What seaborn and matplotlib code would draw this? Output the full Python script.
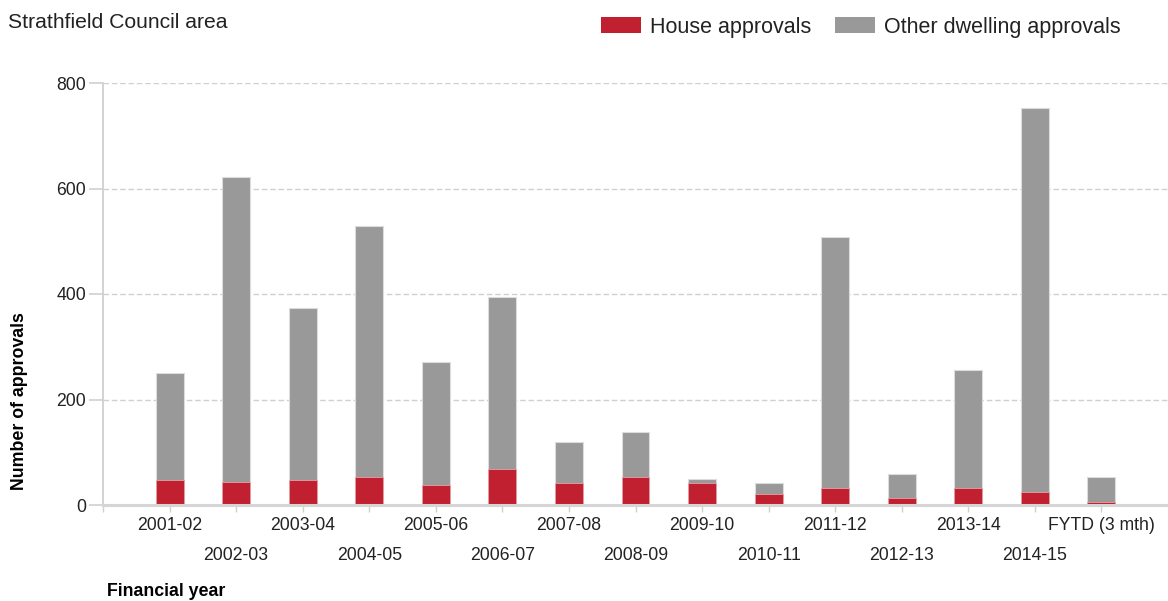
import matplotlib
matplotlib.use("Agg")
import matplotlib.pyplot as plt
from matplotlib.patches import Patch
import seaborn as sns

# ---- data ----
years = ["2001-02", "2002-03", "2003-04", "2004-05", "2005-06", "2006-07", "2007-08",
         "2008-09", "2009-10", "2010-11", "2011-12", "2012-13", "2013-14", "2014-15",
         "FYTD (3 mth)"]
house_approvals = [47, 44, 47, 53, 38, 68, 41, 53, 41, 20, 32, 14, 32, 25, 5]
other_approvals = [204, 578, 326, 475, 234, 326, 79, 85, 9, 21, 477, 45, 224, 728, 48]
yticks = [0, 200, 400, 600, 800]

total_approvals = [h + o for h, o in zip(house_approvals, other_approvals)]

RED = "#C0202F"
GREY = "#999999"
TEXT = "#222222"
LINE = "#d0d0d0"

sns.set_style("white")
plt.rcParams["font.family"] = ["Liberation Sans", "DejaVu Sans"]

fig = plt.figure(figsize=(11.68, 6.01), dpi=100)
W, H = 1168, 601
ax = fig.add_axes([103 / W, 96 / H, (1168 - 103) / W, (505 - 83) / H])

sns.barplot(x=years, y=total_approvals, color=GREY, width=0.42, saturation=1,
            edgecolor="#dcdcdc", linewidth=0.8, ax=ax, zorder=2)
sns.barplot(x=years, y=house_approvals, color=RED, width=0.42, saturation=1,
            edgecolor="#e6a0a6", linewidth=0.6, ax=ax, zorder=3)

ax.set_xlim(-1, 15)
ax.set_ylim(0, 800)
ax.set_yticks(yticks)
ax.set_yticklabels([str(v) for v in yticks], fontsize=12.7, color=TEXT)

ax.set_xticks(range(-1, len(years)))
ax.set_xticklabels([""] + years, fontsize=12.7, color=TEXT)

ax.set_xlabel("")
ax.set_ylabel("")

ax.yaxis.grid(True, linestyle=(0, (4, 2)), color=LINE, linewidth=1)
ax.xaxis.grid(False)
ax.set_axisbelow(True)

for s in ["top", "right"]:
    ax.spines[s].set_visible(False)
ax.spines["left"].set_color(LINE)
ax.spines["left"].set_linewidth(1.3)
ax.spines["bottom"].set_color("#d5d5d5")
ax.spines["bottom"].set_linewidth(2.2)
ax.spines["bottom"].set_zorder(4)

ax.tick_params(axis="y", length=10, width=1.2, color=LINE, pad=2, left=True)
ax.tick_params(axis="x", length=5, width=1, color=LINE, pad=4, bottom=True)
for t in ax.xaxis.get_major_ticks():
    t.tick1line.set_linestyle((0, (1, 1)))

# alternate label rows
for i, t in enumerate(ax.xaxis.get_major_ticks()):
    idx = i - 1
    if idx >= 0 and idx % 2 == 1:
        t.set_pad(4 + 21.6)

# texts
fig.text(8 / W, 1 - 22 / H, "Strathfield Council area", fontsize=15.2, color=TEXT,
         ha="left", va="center")
fig.text(20 / W, 1 - 401 / H, "Number of approvals", fontsize=12.8, fontweight="bold",
         color="black", rotation=90, ha="center", va="center")
fig.text(107 / W, 1 - 592 / H, "Financial year", fontsize=12.8, fontweight="bold",
         color="black", ha="left", va="center")

handles = [Patch(facecolor=RED, edgecolor="none", label="House approvals"),
           Patch(facecolor=GREY, edgecolor="none", label="Other dwelling approvals")]
leg = fig.legend(handles=handles, loc="center left", bbox_to_anchor=(601 / W, 1 - 27 / H),
                 ncol=2, frameon=False, fontsize=15.5, handlelength=1.85, handleheight=0.8,
                 handletextpad=0.42, columnspacing=1.1, borderaxespad=0, borderpad=0)
for txt in leg.get_texts():
    txt.set_color(TEXT)

fig.savefig("out.png", dpi=100)
